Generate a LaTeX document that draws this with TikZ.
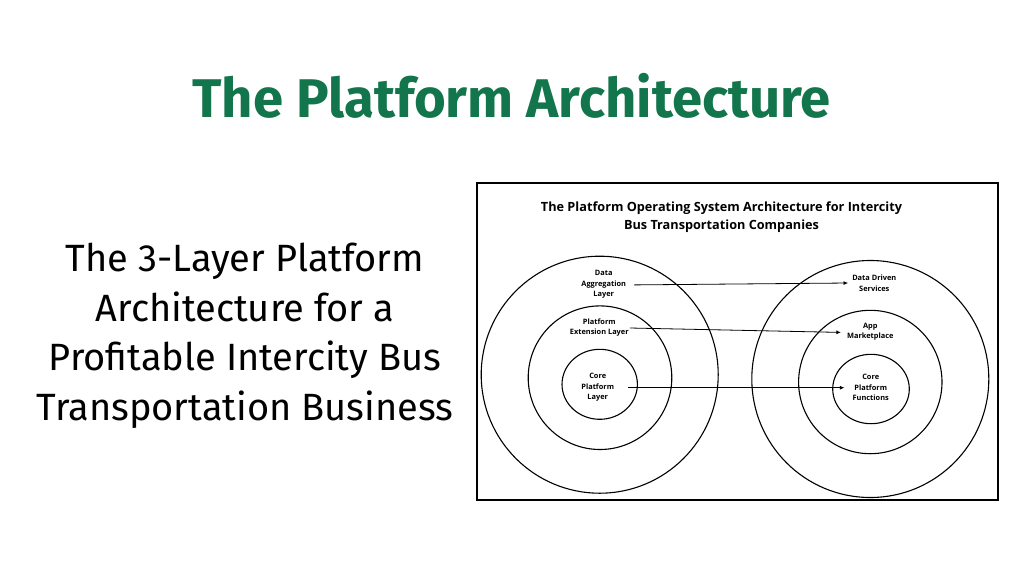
\documentclass[tikz,border=0pt]{standalone}
\usepackage{fontspec}
\setmainfont{Fira Sans}
\newfontfamily\figfont{Open Sans}
\usetikzlibrary{arrows.meta}
\definecolor{titlegreen}{HTML}{12754B}
\tikzset{
  layer/.style={align=center, font=\figfont\fontsize{7.4}{10.5}\selectfont\bfseries, inner sep=1pt},
  link/.style={-{Latex[length=4.5pt,width=4pt]}, line width=0.8pt},
  ring/.style={line width=1.1pt}
}
\begin{document}
\begin{tikzpicture}[x=1pt,y=-1pt]
    \useasboundingbox (0,0) rectangle (1024,576);
    % Slide title and intro text
    \node[text=titlegreen, font=\fontsize{54.5}{60}\selectfont\bfseries] (title) at (511.5,96) {The Platform Architecture};
    \node[align=center, font=\fontsize{38}{49.5}\selectfont] (intro) at (245,336) {The 3-Layer Platform\\Architecture for a\\Profitable Intercity Bus\\Transportation Business};
    % Framed figure
    \draw[line width=1.8pt] (477,183) rectangle (998,500);
    \node[align=center, font=\figfont\fontsize{12.7}{18.3}\selectfont\bfseries] (ostitle) at (721.5,217) {The Platform Operating System Architecture for Intercity\\Bus Transportation Companies};
    % Concentric rings
    \draw[ring] (599.7,374.7) circle (118.5);
    \draw[ring] (600,377.7) circle (71.8);
    \draw[ring] (599.7,384.3) ellipse (37.7 and 35);
    \draw[ring] (870.3,379) circle (118.5);
    \draw[ring] (870.3,382) circle (71.7);
    \draw[ring] (871,389) ellipse (38.3 and 34.7);
    % Layer labels
    \node[layer] (dal) at (603.7,284.3) {Data\\Aggregation\\Layer};
    \node[layer] (pel) at (599.3,327.5) {Platform\\Extension Layer};
    \node[layer] (cpl) at (597.7,387.7) {Core\\Platform\\Layer};
    \node[layer] (dds) at (874.3,283) {Data Driven\\Services};
    \node[layer] (amp) at (870.3,331.7) {App\\Marketplace};
    \node[layer] (cpf) at (870.7,387.7) {Core\\Platform\\Functions};
    % Mappings
    \draw[link] ([xshift=7pt,yshift=-0.6pt]dal.east) -- ([xshift=-3pt]dds.west);
    \draw[link] ([xshift=0pt,yshift=-0.5pt]pel.east) -- ([xshift=-5pt,yshift=-0.7pt]amp.west);
    \draw[link] ([xshift=13pt]cpl.east) -- ([xshift=-7pt]cpf.west);
\end{tikzpicture}
\end{document}
